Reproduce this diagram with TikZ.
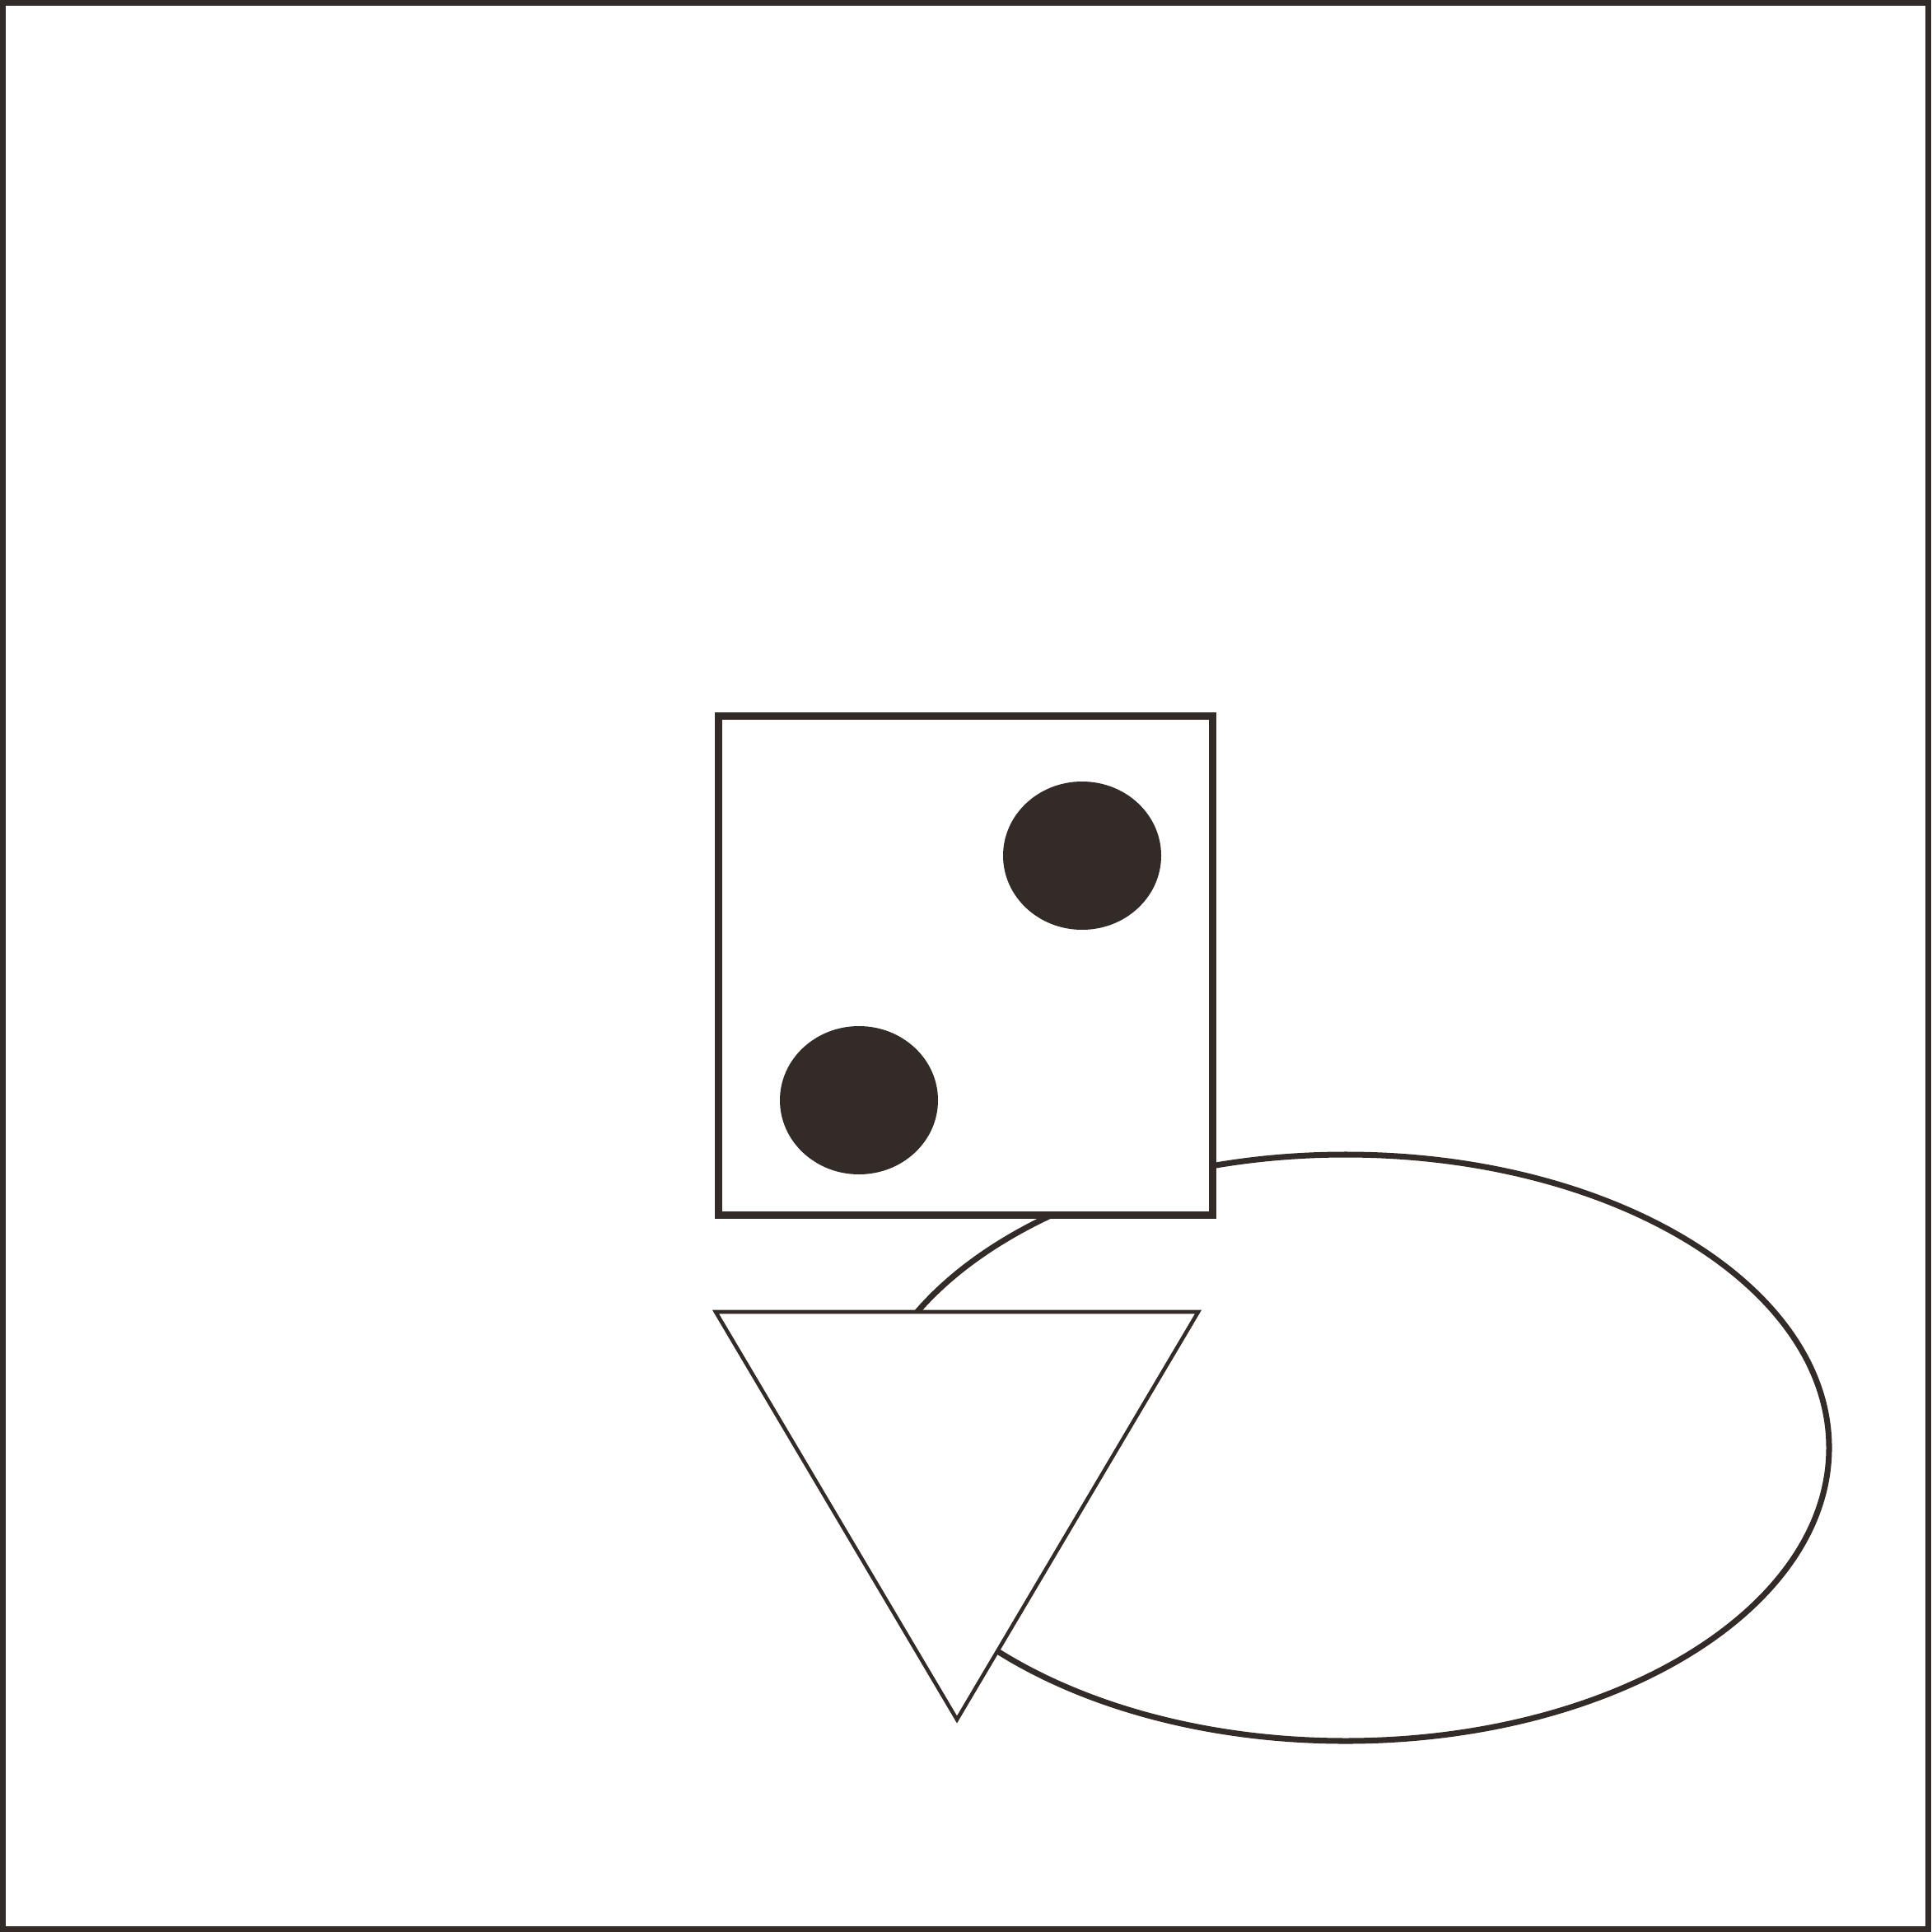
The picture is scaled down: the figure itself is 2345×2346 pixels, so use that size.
\documentclass[tikz,border=0pt]{standalone}
\usepackage{tikz}
\definecolor{inkc}{RGB}{51,43,40}
\begin{document}
\begin{tikzpicture}[
  x=0.01cm, y=-0.01cm,
  thick line/.style={draw=inkc, line width=2.56pt},
  frame line/.style={draw=inkc, line width=2pt},
  thin line/.style={draw=inkc, line width=1.3pt, line join=miter}
]
\useasboundingbox (0,0) rectangle (2345,2346);
% outer frame
\draw[frame line] (3.5,3.5) rectangle (2341.5,2342.5);
% ellipse behind
\draw[frame line] (1634,1758) ellipse [x radius=587, y radius=356];
% box with two dots
\filldraw[thick line, fill=white] (872.5,869.5) rectangle (1472.5,1475.5);
\fill[inkc] (1314,1039) ellipse [x radius=96, y radius=90];
\fill[inkc] (1043,1336) ellipse [x radius=96, y radius=90];
% triangle
\filldraw[thin line, fill=white] (869,1593) -- (1455,1593) -- (1162,2088) -- cycle;
\end{tikzpicture}
\end{document}
